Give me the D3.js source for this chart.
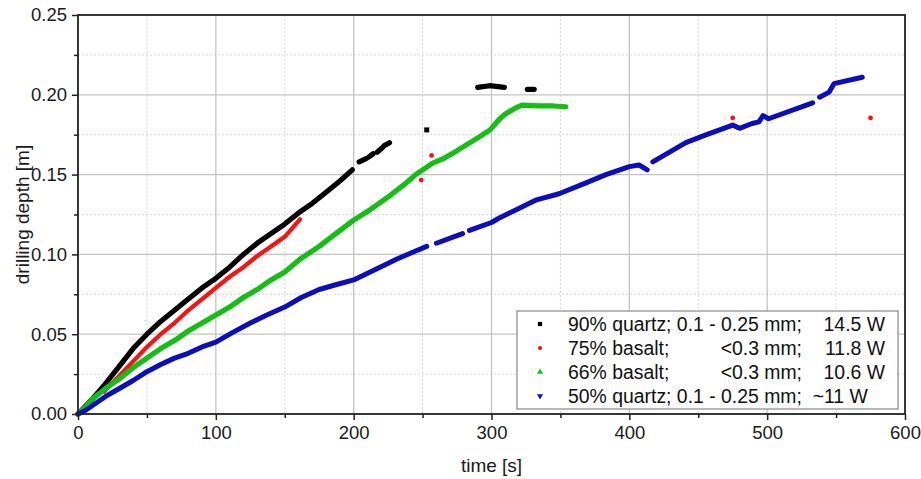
<!DOCTYPE html>
<html>
<head>
<meta charset="utf-8">
<script src="https://cdn.jsdelivr.net/npm/d3@7"></script>
<style>
  html, body { margin: 0; padding: 0; background: #fff; }
  svg { display: block; font-family: "Liberation Sans", Arial, sans-serif; }
</style>
</head>
<body>
<svg id="chart" width="921" height="479"></svg>
<script>
// ---- data (time [s], drilling depth [m]); null = gap in the recorded series ----
const xTicks = [0, 100, 200, 300, 400, 500, 600];
const xMinorTicks = [50, 150, 250, 350, 450, 550];
const yTicks = [0, 0.05, 0.10, 0.15, 0.20, 0.25];
const yMinorTicks = [0.025, 0.075, 0.125, 0.175, 0.225];

const quartz90 = [
  [0,0],[10,0.009],[20,0.019],[30,0.030],[40,0.041],[50,0.050],[60,0.058],[70,0.065],
  [80,0.072],[90,0.079],[100,0.085],[110,0.092],[120,0.100],[130,0.107],[140,0.113],
  [150,0.119],[160,0.126],[170,0.132],[180,0.139],[190,0.146],[199,0.153], null,
  [204,0.158],[209,0.160], null, [211,0.161],[214,0.163], null,
  [217,0.164],[221,0.167], null, [222,0.168],[226,0.170], null,
  [290,0.2047],[298.6,0.2057],[309.4,0.2047], null, [326,0.2034],[331,0.2034]
];
const quartz90Points = [[253,0.178]];

const basalt75 = [
  [19,0.014],[30,0.024],[40,0.033],[50,0.042],[60,0.050],[70,0.057],[80,0.065],
  [90,0.072],[100,0.079],[110,0.086],[120,0.092],[130,0.099],[140,0.105],[150,0.111],
  [155,0.116],[161,0.122]
];
const basalt75Points = [[249,0.1466],[256.5,0.162],[475,0.1855],[575,0.1855]];

const basalt66 = [
  [0,0],[5,0.004],[10,0.009],[20,0.016],[30,0.022],[40,0.029],[50,0.035],[60,0.041],
  [70,0.046],[80,0.052],[90,0.057],[100,0.062],[110,0.067],[120,0.073],[130,0.078],
  [140,0.084],[150,0.089],[161,0.097],[175,0.105],[187,0.113],[200,0.1215],[212,0.128],
  [225,0.136],[237,0.144],[245,0.150],[257,0.157],[265,0.160],[275,0.165],[290,0.173],
  [299,0.178],[303,0.182],[306,0.185],[310,0.188],[314,0.190],[318,0.192],[322,0.1935],
  [335,0.193],[345,0.193],[354,0.1925]
];

const quartz50 = [
  [0,0],[5,0.002],[10,0.005],[20,0.011],[30,0.016],[40,0.021],[50,0.0265],[60,0.031],
  [70,0.035],[80,0.038],[90,0.042],[100,0.045],[112,0.051],[125,0.057],[137,0.062],
  [150,0.067],[162,0.073],[175,0.078],[187,0.081],[200,0.084],[212,0.089],[224,0.094],
  [231,0.097],[242,0.101],[253,0.105], null, [260,0.107],[279,0.113], null,
  [284,0.115],[300,0.120],[306,0.123],[332,0.134],[349,0.138],[369,0.145],[383,0.150],
  [400,0.155],[407,0.156],[413,0.153], null, [417,0.158],[441,0.170],[456,0.175],
  [475,0.181],[480,0.179],[489,0.182],[494,0.183],[497,0.187],[501,0.185],[533,0.195],
  null, [538,0.1985],[545,0.2017],[548.5,0.207],[569,0.211]
];

const legendNames = ["90% quartz; 0.1 - 0.25 mm;", "75% basalt;", "66% basalt;", "50% quartz; 0.1 - 0.25 mm;"];
const legendSizes = ["", "<0.3 mm;", "<0.3 mm;", ""];
const legendPowers = ["14.5 W", "11.8 W", "10.6 W", "~11 W"];
const seriesColors = ["#000000", "#ff1010", "#12c012", "#0c0cc4"];
const seriesSymbols = ["square", "circle", "triangle", "triangleDown"];

// ---- layout ----
const svg = d3.select("#chart");
const L = 78, R = 905, T = 15, B = 414;
const x = d3.scaleLinear().domain([0, 600]).range([L, R]);
const y = d3.scaleLinear().domain([0, 0.25]).range([B, T]);

// grid
const grid = svg.append("g");
grid.selectAll(".gxm").data(xMinorTicks).join("line")
  .attr("x1", d => x(d)).attr("x2", d => x(d)).attr("y1", T).attr("y2", B)
  .attr("stroke", "#d8d8d8").attr("stroke-width", 1).attr("stroke-dasharray", "2,2");
grid.selectAll(".gym").data(yMinorTicks).join("line")
  .attr("y1", d => y(d)).attr("y2", d => y(d)).attr("x1", L).attr("x2", R)
  .attr("stroke", "#d8d8d8").attr("stroke-width", 1).attr("stroke-dasharray", "2,2");
grid.selectAll(".gx").data(xTicks.slice(1, -1)).join("line")
  .attr("x1", d => x(d)).attr("x2", d => x(d)).attr("y1", T).attr("y2", B)
  .attr("stroke", "#c4c4c4").attr("stroke-width", 1.3);
grid.selectAll(".gy").data(yTicks.slice(1, -1)).join("line")
  .attr("y1", d => y(d)).attr("y2", d => y(d)).attr("x1", L).attr("x2", R)
  .attr("stroke", "#c4c4c4").attr("stroke-width", 1.3);

// series
const line = d3.line().defined(d => d !== null).x(d => x(d[0])).y(d => y(d[1]));
const plot = svg.append("g");
function drawSeries(data, color, width) {
  plot.append("path").datum(data).attr("d", line)
    .attr("fill", "none").attr("stroke", color).attr("stroke-width", width)
    .attr("stroke-linejoin", "round").attr("stroke-linecap", "round");
}
drawSeries(quartz90, seriesColors[0], 5.2);
drawSeries(basalt75, seriesColors[1], 4.2);
drawSeries(basalt66, seriesColors[2], 5.2);
drawSeries(quartz50, seriesColors[3], 5);

plot.selectAll(".bp").data(quartz90Points).join("rect")
  .attr("x", d => x(d[0]) - 2.5).attr("y", d => y(d[1]) - 2.5)
  .attr("width", 5).attr("height", 5).attr("fill", seriesColors[0]);
plot.selectAll(".rp").data(basalt75Points).join("circle")
  .attr("cx", d => x(d[0])).attr("cy", d => y(d[1])).attr("r", 2.4)
  .attr("fill", seriesColors[1]);

// axes
const axisColor = "#222";
const fontTick = "18.5px";
const xAxis = d3.axisBottom(x).tickValues(xTicks).tickSize(6).tickPadding(6).tickFormat(d3.format("d"));
const gx = svg.append("g").attr("transform", `translate(0,${B})`).call(xAxis);
const gxMinor = svg.append("g").attr("transform", `translate(0,${B})`)
  .call(d3.axisBottom(x).tickValues(xMinorTicks).tickSize(4).tickFormat(""));
const yAxis = d3.axisLeft(y).tickValues(yTicks).tickSize(6).tickPadding(5).tickFormat(d3.format(".2f"));
const gy = svg.append("g").attr("transform", `translate(${L},0)`).call(yAxis);
const gyMinor = svg.append("g").attr("transform", `translate(${L},0)`)
  .call(d3.axisLeft(y).tickValues(yMinorTicks).tickSize(4).tickFormat(""));
[gx, gxMinor, gy, gyMinor].forEach(g => {
  g.select(".domain").remove();
  g.selectAll(".tick line").attr("stroke", axisColor).attr("stroke-width", 1.5);
  g.selectAll("text").attr("fill", "#1a1a1a").style("font-size", fontTick)
    .style("font-family", '"Liberation Sans", Arial, sans-serif');
});

// frame
svg.append("rect").attr("x", L).attr("y", T).attr("width", R - L).attr("height", B - T)
  .attr("fill", "none").attr("stroke", axisColor).attr("stroke-width", 1.8);

// axis titles
svg.append("text").attr("x", (L + R) / 2).attr("y", 472).attr("text-anchor", "middle")
  .style("font-size", "19px").attr("fill", "#1a1a1a").text("time [s]");
svg.append("text").attr("transform", `translate(29,${(T + B) / 2}) rotate(-90)`)
  .attr("text-anchor", "middle").style("font-size", "19px").attr("fill", "#1a1a1a")
  .text("drilling depth [m]");

// legend
const lg = svg.append("g");
lg.append("rect").attr("x", 517).attr("y", 311).attr("width", 381).attr("height", 98)
  .attr("fill", "#fff").attr("stroke", "#888").attr("stroke-width", 1.2);
const rowY = [324, 348, 372, 396];
const symGen = {
  square: d3.symbol(d3.symbolSquare, 18),
  circle: d3.symbol(d3.symbolCircle, 14),
  triangle: d3.symbol(d3.symbolTriangle, 16),
  triangleDown: d3.symbol(d3.symbolTriangle, 16)
};
const fs = "19.4px";
legendNames.forEach((name, i) => {
  const g = lg.append("g");
  g.append("path").attr("d", symGen[seriesSymbols[i]]())
    .attr("transform", `translate(540,${rowY[i]})` + (seriesSymbols[i] === "triangleDown" ? " rotate(180)" : ""))
    .attr("fill", seriesColors[i]);
  if (i === 3) {
    g.append("text").attr("x", 568).attr("y", rowY[i] + 7).style("font-size", fs)
      .style("white-space", "pre")
      .text(name + "  " + legendPowers[i]);
  } else {
    g.append("text").attr("x", 568).attr("y", rowY[i] + 7).style("font-size", fs).text(name);
    if (legendSizes[i]) {
      g.append("text").attr("x", 802).attr("y", rowY[i] + 7).attr("text-anchor", "end")
        .style("font-size", fs).text(legendSizes[i]);
    }
    g.append("text").attr("x", 885).attr("y", rowY[i] + 7).attr("text-anchor", "end")
      .style("font-size", fs).text(legendPowers[i]);
  }
});
lg.selectAll("text").attr("fill", "#111");
</script>
</body>
</html>
